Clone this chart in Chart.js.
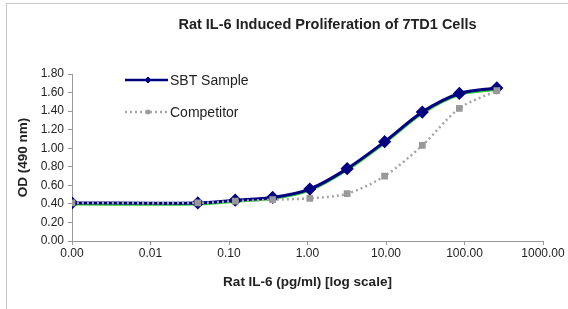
<!DOCTYPE html>
<html>
<head>
<meta charset="utf-8">
<script src="https://cdn.jsdelivr.net/npm/chart.js@4"></script>
<style>
    html, body { margin: 0; padding: 0; background: #fff; }
    #wrap { position: relative; width: 568px; height: 309px; }
    #frame { position: absolute; left: 6px; top: 3px; right: 0; bottom: 0;
             border-left: 1px solid #c8c8c8; border-top: 1px solid #c8c8c8; }
    canvas { position: absolute; left: 0; top: 0; }
</style>
</head>
<body>
<div id="wrap">
    <div id="frame"></div>
    <canvas id="odChart" width="568" height="309"></canvas>
</div>
<script>
// rat IL-6 (pg/ml); the zero-dose well is plotted at 0.001
const concentrations = [0.001, 0.04, 0.12, 0.36, 1.07, 3.2, 9.6, 29, 86, 258];
const sbtSample = [0.41, 0.41, 0.44, 0.47, 0.56, 0.78, 1.07, 1.39, 1.59, 1.65];
const sbtFit = [0.395, 0.395, 0.425, 0.455, 0.545, 0.765, 1.055, 1.375, 1.575, 1.632];
const competitor = [0.41, 0.41, 0.43, 0.445, 0.46, 0.51, 0.70, 1.03, 1.43, 1.62];
const xTicks = [0.001, 0.01, 0.1, 1, 10, 100, 1000];

const toPoints = values => values.map((y, i) => ({ x: concentrations[i], y }));

Chart.defaults.font.family = "'Liberation Sans', Arial, sans-serif";
Chart.defaults.color = '#222';

const titlePlugin = {
    id: 'excelTitle',
    afterDraw(chart) {
        const { ctx } = chart;
        ctx.save();
        ctx.font = "bold 14.5px 'Liberation Sans', Arial, sans-serif";
        ctx.fillStyle = '#222';
        ctx.textAlign = 'center';
        ctx.textBaseline = 'middle';
        ctx.fillText('Rat IL-6 Induced Proliferation of 7TD1 Cells', 327.5, 25);
        ctx.restore();
    }
};

const legendPlugin = {
    id: 'insideLegend',
    afterDraw(chart) {
        const { ctx } = chart;
        const rows = [
            { ds: chart.data.datasets[1], y: 80, r: 3 },
            { ds: chart.data.datasets[0], y: 112, r: 2.5 }
        ];
        ctx.save();
        rows.forEach(({ ds, y, r }) => {
            ctx.strokeStyle = ds.borderColor;
            ctx.lineWidth = 2.5;
            ctx.setLineDash(ds.borderDash || []);
            ctx.beginPath();
            ctx.moveTo(125, y);
            ctx.lineTo(168, y);
            ctx.stroke();
            ctx.setLineDash([]);
            ctx.fillStyle = ds.pointBackgroundColor;
            ctx.strokeStyle = ds.pointBorderColor;
            ctx.lineWidth = 1;
            Chart.helpers.drawPoint(ctx, {
                pointStyle: ds.pointStyle,
                radius: r,
                borderWidth: 1
            }, 148, y);
            ctx.font = "14px 'Liberation Sans', Arial, sans-serif";
            ctx.fillStyle = '#222';
            ctx.textAlign = 'left';
            ctx.textBaseline = 'middle';
            ctx.fillText(ds.label, 170, y + 1);
        });
        ctx.restore();
    }
};

new Chart(document.getElementById('odChart'), {
    type: 'line',
    data: {
        datasets: [
            {
                label: 'Competitor',
                data: toPoints(competitor),
                borderColor: '#a6a6a6',
                borderWidth: 2.5,
                borderDash: [2, 3],
                pointStyle: 'rect',
                pointRadius: 3,
                pointBackgroundColor: '#999999',
                pointBorderColor: '#999999',
                tension: 0.3,
                order: 0
            },
            {
                label: 'SBT Sample',
                data: toPoints(sbtSample),
                borderColor: '#000080',
                borderWidth: 3,
                pointStyle: 'rectRot',
                pointRadius: 4.5,
                pointBackgroundColor: '#000080',
                pointBorderColor: '#000080',
                tension: 0.3,
                order: 1
            },
            {
                label: 'fit',
                data: toPoints(sbtFit),
                borderColor: '#2ecc2e',
                borderWidth: 2.5,
                pointRadius: 0,
                tension: 0.3,
                order: 2
            }
        ]
    },
    options: {
        responsive: false,
        animation: false,
        layout: {
            padding: { top: 74, right: 25, bottom: 0, left: 0 }
        },
        plugins: {
            legend: { display: false },
            title: { display: false },
            tooltip: { enabled: false }
        },
        scales: {
            x: {
                type: 'logarithmic',
                min: 0.001,
                max: 1000,
                afterBuildTicks: scale => {
                    scale.ticks = xTicks.map(value => ({ value }));
                },
                afterFit: scale => { scale.height = 309 - 241; },
                ticks: {
                    autoSkip: false,
                    maxRotation: 0,
                    padding: 1,
                    font: { size: 12 },
                    color: '#222',
                    callback: value => Number(value).toFixed(2)
                },
                grid: {
                    drawOnChartArea: false,
                    tickLength: 4,
                    color: '#999'
                },
                border: { color: '#999' },
                title: {
                    display: true,
                    text: 'Rat IL-6 (pg/ml) [log scale]',
                    font: { size: 13.5, weight: 'bold' },
                    color: '#222',
                    padding: { top: 0, bottom: 19 }
                }
            },
            y: {
                min: 0,
                max: 1.8,
                afterFit: scale => { scale.width = 72; },
                ticks: {
                    stepSize: 0.2,
                    padding: 4,
                    font: { size: 12 },
                    color: '#222',
                    callback: value => value.toFixed(2)
                },
                grid: {
                    drawOnChartArea: false,
                    tickLength: 4,
                    color: '#999'
                },
                border: { color: '#999' },
                title: {
                    display: true,
                    text: 'OD (490 nm)',
                    font: { size: 13.5, weight: 'bold' },
                    color: '#222',
                    padding: { top: 15, bottom: 0 }
                }
            }
        }
    },
    plugins: [titlePlugin, legendPlugin]
});
</script>
</body>
</html>
